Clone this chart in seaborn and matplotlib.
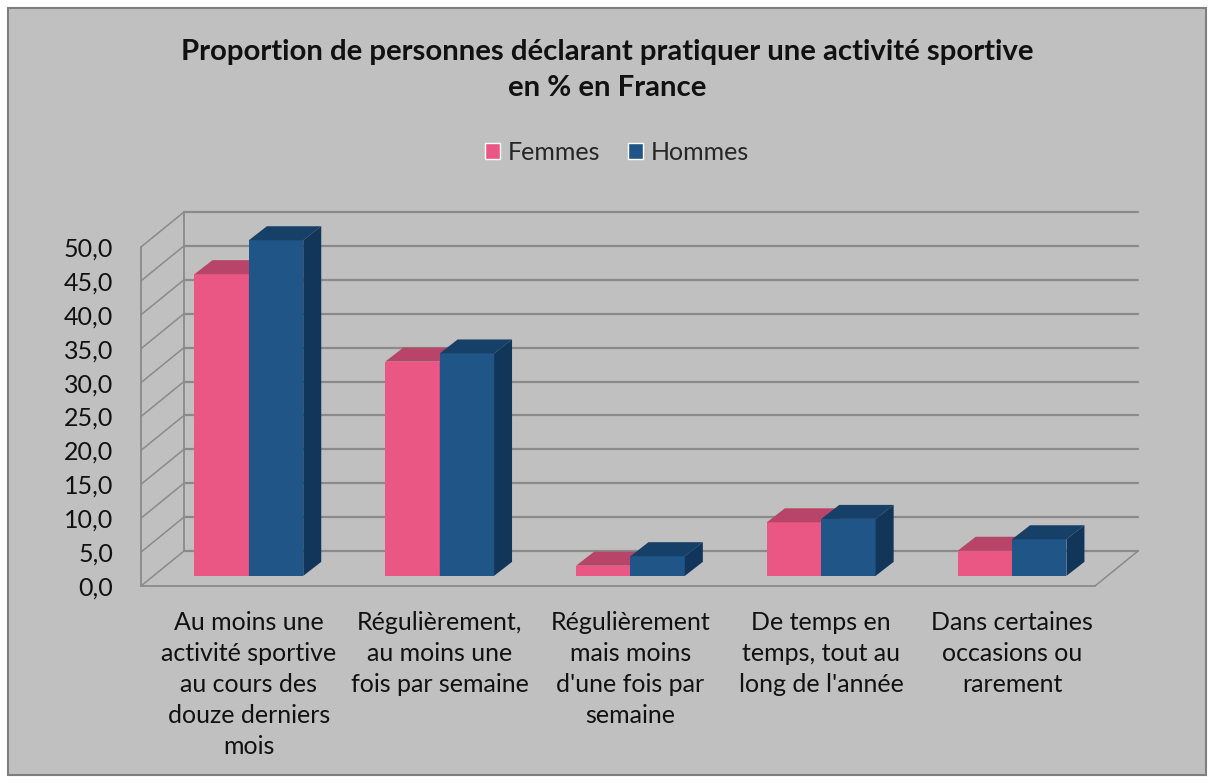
import numpy as np
import pandas as pd
import matplotlib.pyplot as plt
import seaborn as sns
from matplotlib.patches import Polygon, Rectangle

# Données (en %)
categories = ["Au moins une\nactivité sportive\nau cours des\ndouze derniers\nmois",
              "Régulièrement,\nau moins une\nfois par semaine",
              "Régulièrement\nmais moins\nd'une fois par\nsemaine",
              "De temps en\ntemps, tout au\nlong de l'année",
              "Dans certaines\noccasions ou\nrarement"]
femmes = [44.5, 31.6, 1.5, 7.9, 3.7]
hommes = [49.5, 32.8, 2.9, 8.4, 5.4]
sexes = ["Femmes", "Hommes"]
yticks = np.arange(0, 55, 5)

df = pd.DataFrame({"categorie": categories * 2,
                   "valeur": femmes + hommes,
                   "sexe": ["Femmes"] * 5 + ["Hommes"] * 5})

sns.set_theme(style="white")
plt.rcParams["font.family"] = ["Lato", "DejaVu Sans"]

couleurs = {"Femmes": "#ea5785", "Hommes": "#1f5587"}
dessus = {"Femmes": "#b8446a", "Hommes": "#174068"}
cotes = {"Femmes": "#9e3a5c", "Hommes": "#12355a"}
grille = "#8a8a8a"

W, H = 1214, 783
fig = plt.figure(figsize=(W / 100, H / 100), dpi=100, facecolor="white")
fig.add_artist(Rectangle((8 / W, 8 / H), 1198 / W, 767 / H, transform=fig.transFigure,
                         facecolor="#c0c0c0", edgecolor="#7f7f7f", lw=1.5, zorder=-10))

# axes = plan avant du graphique 3D
ax = fig.add_axes([141 / W, (H - 586) / H, 954 / W, 55 * 6.78 / H])
ax.set_xlim(-0.5, 4.5)
ax.set_ylim(0, 55)
ax.patch.set_alpha(0)
for s in ax.spines.values():
    s.set_visible(False)

# pixels par unité
p0 = ax.transData.transform((0, 0))
p1 = ax.transData.transform((1, 1))
kx, ky = p1 - p0
DX, DY = 43 / kx, 35 / ky          # profondeur totale
bx, by = 0.29 * DX, 0.29 * DY      # position des barres dans la profondeur
ddx, ddy = 18 / kx, 14 / ky        # épaisseur des barres

# murs et sol
for v in yticks:
    ax.plot([-0.5 + DX, 4.5 + DX], [v + DY, v + DY], color=grille, lw=1.6, zorder=1, clip_on=False)
    ax.plot([-0.5, -0.5 + DX], [v, v + DY], color=grille, lw=1.1, zorder=1, clip_on=False)
ax.plot([-0.5, -0.5], [0, 50], color=grille, lw=1.3, zorder=1, clip_on=False)
ax.plot([-0.5 + DX, -0.5 + DX], [DY, 50 + DY], color=grille, lw=1.3, zorder=1, clip_on=False)
ax.plot([-0.5, 4.5], [0, 0], color=grille, lw=1.3, zorder=1, clip_on=False)
ax.plot([4.5, 4.5 + DX], [0, DY], color=grille, lw=1.1, zorder=1, clip_on=False)

sns.barplot(data=df, x="categorie", y="valeur", hue="sexe", palette=couleurs,
            width=0.57, saturation=1, ax=ax)

# effet 3D
for k, (cont, sexe) in enumerate(zip(ax.containers, sexes)):
    for bar in cont:
        x0 = bar.get_x() + bx
        w = bar.get_width()
        h = bar.get_height()
        bar.set_x(x0)
        bar.set_y(by)
        bar.set_edgecolor("none")
        bar.set_zorder(3 + k)
        y1 = by + h
        ax.add_patch(Polygon([(x0, y1), (x0 + w, y1), (x0 + w + ddx, y1 + ddy), (x0 + ddx, y1 + ddy)],
                             closed=True, facecolor=dessus[sexe], edgecolor="none", zorder=3 + k, clip_on=False))
        ax.add_patch(Polygon([(x0 + w, by), (x0 + w + ddx, by + ddy), (x0 + w + ddx, y1 + ddy), (x0 + w, y1)],
                             closed=True, facecolor=cotes[sexe], edgecolor="none", zorder=3 + k, clip_on=False))

ax.set_xlim(-0.5, 4.5)
ax.set_ylim(0, 55)
ax.set_xlabel("")
ax.set_ylabel("")
ax.set_yticks(yticks, labels=[f"{v:.1f}".replace(".", ",") for v in yticks])
ax.set_xticks(np.arange(5) + bx, labels=categories)
ax.tick_params(axis="y", length=0, pad=20, labelsize=18, labelcolor="#111111")
ax.tick_params(axis="x", length=0, pad=18, labelsize=18, labelcolor="#111111")
for t in ax.get_xticklabels():
    t.set_linespacing(1.42)

handles, labels = ax.get_legend_handles_labels()
ax.get_legend().remove()
fig.legend(handles, labels, loc="center", bbox_to_anchor=(617 / W, 1 - 152 / H), ncol=2,
           frameon=False, fontsize=18, handlelength=0.6, handleheight=0.6,
           handletextpad=0.3, columnspacing=1.1)

fig.text(0.5, 1 - 70 / H, "Proportion de personnes déclarant pratiquer une activité sportive\nen % en France",
         ha="center", va="center", fontsize=21.2, fontweight="bold", linespacing=1.45, color="#111111")

fig.savefig("out.png", dpi=100, facecolor=fig.get_facecolor())
